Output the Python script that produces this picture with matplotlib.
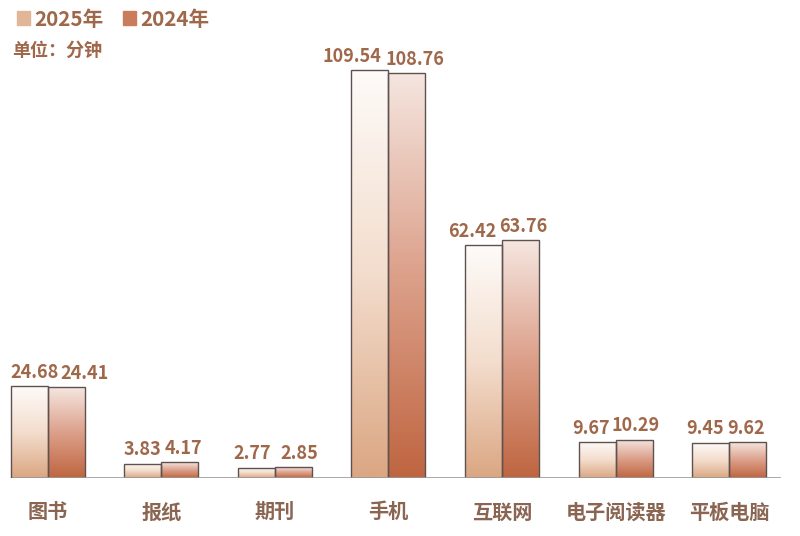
import numpy as np
import matplotlib.pyplot as plt
from matplotlib.colors import LinearSegmentedColormap

plt.rcParams['font.family'] = ['Noto Sans CJK SC', 'DejaVu Sans']

categories = ['图书', '报纸', '期刊', '手机', '互联网', '电子阅读器', '平板电脑']
values_2025 = [24.68, 3.83, 2.77, 109.54, 62.42, 9.67, 9.45]
values_2024 = [24.41, 4.17, 2.85, 108.76, 63.76, 10.29, 9.62]
series_names = ['2025年', '2024年']

# horizontal nudges (points) for the value labels, so the pairs don't collide
nudge_2025 = [4, 0, -3, -13, -8, -4, -4]
nudge_2024 = [13, 3, 4, 6, 2, 1, -1]

label_color = '#a0684a'
cat_color = '#8a6552'
edge_color = '#5e5250'

cmap_2025 = LinearSegmentedColormap.from_list('c25', ['#dba682', '#f3ddcd', '#fefbf9'])
cmap_2024 = LinearSegmentedColormap.from_list('c24', ['#bf6540', '#dca08a', '#f5e6e0'])

fig = plt.figure(figsize=(8, 5.36), dpi=100)
ax = fig.add_axes([0, 58 / 536, 1, 447 / 536])
ax.axis('off')

x = np.arange(len(categories))
w = 0.326
grad = np.linspace(0, 1, 256).reshape(-1, 1)

for vals, offset, cmap, nudge in [(values_2025, -w / 2, cmap_2025, nudge_2025),
                                  (values_2024, w / 2, cmap_2024, nudge_2024)]:
    bars = ax.bar(x + offset, vals, width=w, facecolor='none', edgecolor=edge_color,
                  linewidth=1.0, zorder=3)
    for bar, v, n in zip(bars, vals, nudge):
        x0 = bar.get_x()
        img = ax.imshow(grad, cmap=cmap, aspect='auto', origin='lower',
                        extent=[x0, x0 + w, 0, v], zorder=2)
        img.set_clip_path(bar)
        ax.annotate(f'{v:.2f}', (x0 + w / 2, v), xytext=(n, 6), textcoords='offset points',
                    ha='center', va='baseline', fontsize=13, fontweight='bold',
                    color=label_color, zorder=4)

ax.set_xlim(-0.419, 6.623)
ax.set_ylim(0, 120)
# baseline starts at the left edge of the first bar
ax.plot([-0.296, 6.447], [0, 0], color='#9a9a9a', linewidth=1.2, zorder=4)

for xi, c in zip(x, categories):
    ax.text(xi, -9.1, c, ha='center', va='center', fontsize=14.5,
            fontweight='bold', color=cat_color)

# legend
fig.patches.append(plt.Rectangle((17 / 800, 1 - 25 / 536), 13 / 800, 14 / 536,
                                 transform=fig.transFigure, color='#e0b697'))
fig.text(34 / 800, 1 - 19 / 536, series_names[0], ha='left', va='center',
         fontsize=14.8, fontweight='bold', color=label_color)
fig.patches.append(plt.Rectangle((123 / 800, 1 - 25 / 536), 13 / 800, 14 / 536,
                                 transform=fig.transFigure, color='#c97d5c'))
fig.text(140 / 800, 1 - 19 / 536, series_names[1], ha='left', va='center',
         fontsize=14.8, fontweight='bold', color=label_color)
fig.text(12 / 800, 1 - 50 / 536, '单位：分钟', ha='left', va='center',
         fontsize=13, fontweight='bold', color=label_color)

fig.savefig('out.png', dpi=100)
